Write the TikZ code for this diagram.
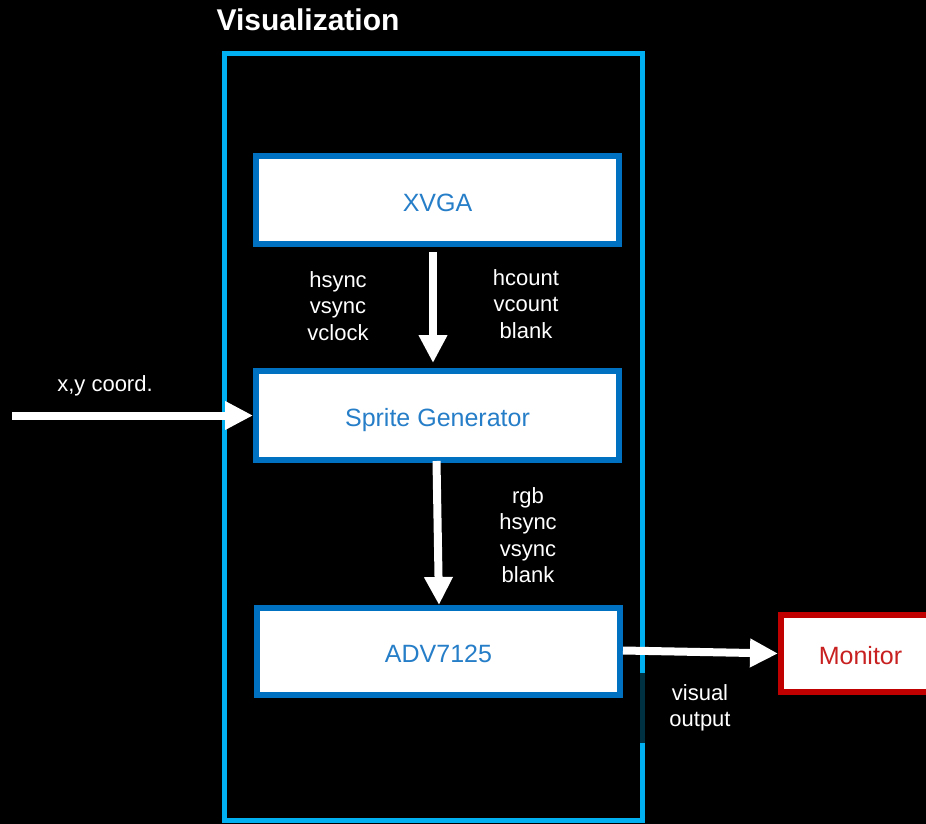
\documentclass[tikz,border=0pt]{standalone}
\usepackage{fontspec}
\setmainfont{Liberation Sans}
\usetikzlibrary{arrows.meta}
\definecolor{framecyan}{RGB}{0,176,240}
\definecolor{boxblue}{RGB}{0,112,192}
\definecolor{txtblue}{RGB}{38,126,200}
\definecolor{monred}{RGB}{192,0,0}
\definecolor{montxt}{RGB}{200,32,32}
\tikzset{
  blockbox/.style={draw=boxblue, line width=6pt, fill=white, text=txtblue,
    minimum width=363pt, font=\fontsize{25}{29}\selectfont, inner sep=0pt,
    text height=22pt, text depth=0pt},
  monbox/.style={draw=monred, line width=6pt, fill=white, text=montxt,
    minimum width=159pt, minimum height=77pt, font=\fontsize{25}{29}\selectfont, inner sep=0pt,
    text height=22pt, text depth=0pt},
  siglabel/.style={text=white, align=center, font=\fontsize{22}{26.5}\selectfont, inner sep=0pt},
  bigarrow/.style={draw=white, line width=8pt, -{Triangle[width=27pt,length=28pt]}},
}
\begin{document}
\begin{tikzpicture}[x=1pt,y=-1pt]
\useasboundingbox[fill=black] (0,0) rectangle (926,824);
% outer frame
\draw[framecyan, line width=5pt] (224,54) rectangle (642,820);
\node[text=white, font=\fontsize{30}{35}\bfseries, inner sep=0pt] (title) at (308,20) {Visualization};
% blocks
\node[blockbox, minimum height=88pt] (xvga) at (437.5,200) {XVGA};
\node[blockbox, minimum height=89pt] (sprite) at (437.5,415.5) {Sprite Generator};
\node[blockbox, minimum height=87pt] (adv) at (438.5,651.5) {ADV7125};
\node[monbox] (mon) at (860.5,653.5) {Monitor};
% labels
\node[siglabel] (l1) at (338,306) {hsync\\vsync\\vclock};
\node[siglabel] (l2) at (526,304) {hcount\\vcount\\blank};
\node[siglabel] (l3) at (528,535) {rgb\\hsync\\vsync\\blank};
\node[siglabel] (l4) at (105,386) {x,y coord.};
\node[siglabel, fill=black, fill opacity=0.72, text opacity=1, minimum width=130pt, minimum height=70pt] (l5) at (700,708) {visual\\output};
% arrows
\coordinate (xyin) at (12,415.5);
\draw[bigarrow] ([xshift=-4.5pt,yshift=-5pt]xvga.south) -- ([xshift=-4.5pt,yshift=5pt]sprite.north);
\draw[bigarrow] ([xshift=-1pt,yshift=2pt]sprite.south) -- ([xshift=0.5pt]adv.north);
\draw[bigarrow] (xyin) -- (sprite.west);
\draw[bigarrow] ([yshift=1pt]adv.east) -- (mon.west);
\end{tikzpicture}
\end{document}
